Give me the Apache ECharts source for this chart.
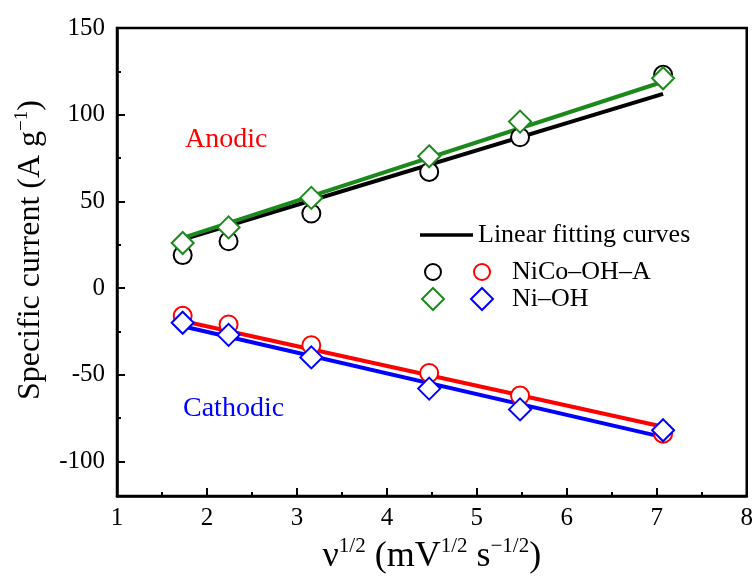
<!DOCTYPE html>
<html>
<head>
<meta charset="utf-8">
<style>
  html, body { margin: 0; padding: 0; background: #fff; }
  #main { width: 756px; height: 583px; }
</style>
</head>
<body>
<div id="main"></div>
<script src="https://cdn.jsdelivr.net/npm/echarts@6/dist/echarts.min.js"></script>
<script type="text/javascript">
// sqrt of scan rate (3, 5, 10, 20, 30, 50 mV/s)
var xVals = [1.73, 2.24, 3.16, 4.47, 5.48, 7.07];
var nicoAnodic = [19, 27, 43, 67, 87, 123];
var niAnodic = [26, 35, 52, 76, 96, 121];
var nicoCathodic = [-16, -21, -33, -49, -62, -84];
var niCathodic = [-20, -27, -40, -58, -70, -82];

// linear fitting curves (end points)
var fitX = [1.73, 7.07];
var fitNicoAnodic = [28, 112];
var fitNiAnodic = [29, 119];
var fitNicoCathodic = [-19, -80];
var fitNiCathodic = [-22, -86];

var yMajor = [-100, -50, 0, 50, 100, 150];
var yMinor = [-75, -25, 25, 75, 125];

var FONT = 'Liberation Serif';
var GREEN = '#1b8a1b';

function pairs(xs, ys) {
    return xs.map(function (x, i) { return [x, ys[i]]; });
}

function fitLine(ys, color) {
    return {
        type: 'line', data: pairs(fitX, ys), symbol: 'none', z: 2,
        lineStyle: { color: color, width: 4 }, silent: true
    };
}

function points(ys, symbol, size, color, z) {
    return {
        type: 'scatter', data: pairs(xVals, ys), symbol: symbol, symbolSize: size, z: z,
        itemStyle: { color: '#fff', borderColor: color, borderWidth: 2, opacity: 1 }
    };
}

var myChart = echarts.init(document.getElementById('main'));

var option = {
    animation: false,
    textStyle: { fontFamily: FONT },
    grid: { left: 117, right: 8, top: 28, bottom: 85, show: true, borderColor: '#000', borderWidth: 2.5 },
    xAxis: {
        type: 'value', min: 1, max: 8, interval: 1,
        axisLine: { onZero: false, lineStyle: { color: '#000', width: 2.5 } },
        axisTick: { inside: true, length: 8, lineStyle: { width: 2 } },
        minorTick: { show: true, splitNumber: 2, length: 4, lineStyle: { color: '#000', width: 2 } },
        splitLine: { show: false },
        axisLabel: { fontSize: 25, color: '#000', margin: 10, fontFamily: FONT },
        name: 'ν{s|1/2} (mV{s|1/2} s{s|−1/2})',
        nameLocation: 'middle', nameGap: 36,
        nameTextStyle: {
            fontSize: 36, color: '#000', fontFamily: FONT, lineHeight: 42,
            rich: { s: { fontSize: 21, verticalAlign: 'top', lineHeight: 40, fontFamily: FONT, color: '#000' } }
        }
    },
    yAxis: [{
        type: 'value', min: -120, max: 150,
        axisLine: { lineStyle: { color: '#000', width: 2.5 } },
        axisTick: { inside: true, length: 8, customValues: yMajor, lineStyle: { width: 2 } },
        splitLine: { show: false },
        axisLabel: { fontSize: 25, color: '#000', margin: 12, fontFamily: FONT, customValues: yMajor },
        name: 'Specific current (A g{s|−1})',
        nameLocation: 'middle', nameGap: 64,
        nameTextStyle: {
            fontSize: 32, color: '#000', fontFamily: FONT, lineHeight: 36, padding: [0, 0, 0, 24],
            rich: { s: { fontSize: 19, verticalAlign: 'top', lineHeight: 34, fontFamily: FONT, color: '#000' } }
        }
    }, {
        // minor ticks on the left axis
        type: 'value', min: -120, max: 150, position: 'left',
        axisLine: { show: false },
        axisTick: { show: true, inside: true, length: 4, customValues: yMinor, lineStyle: { color: '#000', width: 2 } },
        axisLabel: { show: false },
        splitLine: { show: false }
    }],
    series: [
        fitLine(fitNicoAnodic, '#000'),
        fitLine(fitNiAnodic, GREEN),
        fitLine(fitNicoCathodic, '#ff0000'),
        fitLine(fitNiCathodic, '#0000ff'),
        points(nicoAnodic, 'circle', 18, '#000', 3),
        points(nicoCathodic, 'circle', 18, '#ff0000', 3),
        points(niAnodic, 'diamond', 22, GREEN, 4),
        points(niCathodic, 'diamond', 22, '#0000ff', 4)
    ],
    graphic: [
        { type: 'text', left: 185, top: 126, style: { text: 'Anodic', fill: '#ff0000', font: '28px "Liberation Serif"' } },
        { type: 'text', left: 183, top: 395, style: { text: 'Cathodic', fill: '#0000ff', font: '28px "Liberation Serif"' } },
        // legend
        { type: 'line', shape: { x1: 420, y1: 235, x2: 473, y2: 235 }, style: { stroke: '#000', lineWidth: 3.5 } },
        { type: 'text', x: 478, y: 235, style: { text: 'Linear fitting curves', fill: '#000', font: '26px "Liberation Serif"', verticalAlign: 'middle' } },
        { type: 'circle', shape: { cx: 433, cy: 272, r: 8 }, style: { fill: '#fff', stroke: '#000', lineWidth: 2 } },
        { type: 'circle', shape: { cx: 482, cy: 272, r: 8 }, style: { fill: '#fff', stroke: '#ff0000', lineWidth: 2 } },
        { type: 'text', x: 512, y: 272, style: { text: 'NiCo–OH–A', fill: '#000', font: '26px "Liberation Serif"', verticalAlign: 'middle' } },
        { type: 'polygon', shape: { points: [[433, 288], [444, 299], [433, 310], [422, 299]] }, style: { fill: '#fff', stroke: GREEN, lineWidth: 2 } },
        { type: 'polygon', shape: { points: [[482, 288], [493, 299], [482, 310], [471, 299]] }, style: { fill: '#fff', stroke: '#0000ff', lineWidth: 2 } },
        { type: 'text', x: 512, y: 299, style: { text: 'Ni–OH', fill: '#000', font: '26px "Liberation Serif"', verticalAlign: 'middle' } }
    ]
};

myChart.setOption(option);
</script>
</body>
</html>
